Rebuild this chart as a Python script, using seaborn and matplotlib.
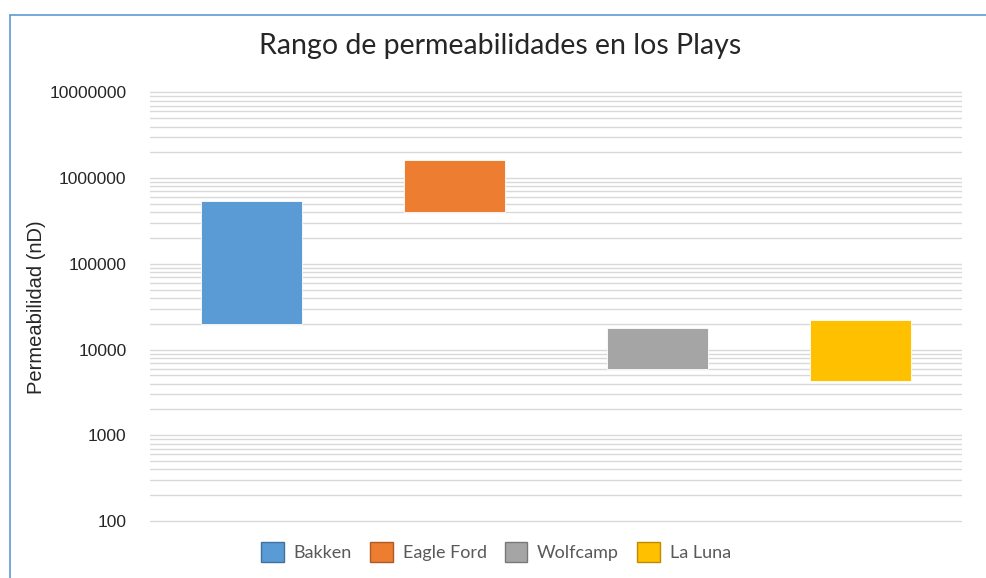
import matplotlib
matplotlib.use("Agg")
import matplotlib.pyplot as plt
from matplotlib.lines import Line2D
from matplotlib.patches import Patch
from matplotlib.ticker import LogLocator, FixedLocator, FixedFormatter, NullFormatter
import seaborn as sns
import pandas as pd

# Permeability ranges per play (nD)
plays = ["Bakken", "Eagle Ford", "Wolfcamp", "La Luna"]
perm_min = [20000, 400000, 6000, 4300]
perm_max = [540000, 1630000, 18000, 22000]
colors = ["#5B9BD5", "#ED7D31", "#A5A5A5", "#FFC000"]
edge_colors = ["#41719C", "#AE5A21", "#787878", "#BC8C00"]
ytick_values = [100, 1000, 10000, 100000, 1000000, 10000000]
ytick_labels = ["100", "1000", "10000", "100000", "1000000", "10000000"]

sns.set_theme(style="white")
plt.rcParams["font.family"] = ["Liberation Sans", "DejaVu Sans"]

df = pd.DataFrame({
    "play": plays,
    "low": perm_min,
    "span": [hi - lo for hi, lo in zip(perm_max, perm_min)],
})

fig = plt.figure(figsize=(9.86, 5.78), dpi=100)
ax = fig.add_axes([150 / 986, 1 - 523 / 578, 812 / 986, (523 - 91) / 578])

sns.barplot(data=df, x="play", y="span", bottom=df["low"].values,
            width=0.5, color=colors[0], ax=ax, zorder=3)
for patch, c in zip(ax.patches, colors):
    patch.set_facecolor(c)
    patch.set_edgecolor("white")
    patch.set_linewidth(0.6)

ax.set_yscale("log")
# small margins so the 100 and 10000000 gridlines stay visible
ax.set_ylim(100 / 1.055, 1e7 * 1.04)
ax.set_xlim(-0.5, 3.5)

ax.yaxis.set_major_locator(FixedLocator(ytick_values))
ax.yaxis.set_major_formatter(FixedFormatter(ytick_labels))
ax.yaxis.set_minor_locator(LogLocator(base=10, subs=range(2, 10)))
ax.yaxis.set_minor_formatter(NullFormatter())
ax.grid(True, axis="y", which="both", color="#D9D9D9", linewidth=1.0, zorder=0)
ax.set_axisbelow(True)

for s in ax.spines.values():
    s.set_visible(False)
ax.tick_params(axis="y", which="both", length=0, pad=17, labelsize=12.5, labelcolor="#262626")
ax.tick_params(axis="x", length=0)
ax.set_xticklabels([])
ax.set_xlabel("")
ax.set_ylabel("Permeabilidad (nD)", fontsize=14.5, color="#262626")
ax.yaxis.set_label_coords(-104 / 812, 0.5)

fig.text(500 / 986, 1 - 46 / 578, "Rango de permeabilidades en los Plays",
         ha="center", va="center", fontsize=20.5, color="#262626", family=["Lato", "DejaVu Sans"])

handles = [Patch(facecolor=c, edgecolor=e, linewidth=1.0) for c, e in zip(colors, edge_colors)]
leg = fig.legend(handles, plays, loc="center", bbox_to_anchor=(496 / 986, 1 - 552 / 578),
                 ncol=4, frameon=False, handlelength=1.25, handleheight=1.25,
                 handletextpad=0.55, columnspacing=1.0,
                 prop={"family": ["Lato", "DejaVu Sans"], "size": 13})
for t in leg.get_texts():
    t.set_color("#595959")

# chart frame border on the top and left
fig.add_artist(Line2D([10 / 986, 1], [1 - 15 / 578, 1 - 15 / 578], color="#5B9BD5", linewidth=1.2))
fig.add_artist(Line2D([10 / 986, 10 / 986], [0, 1 - 15 / 578], color="#5B9BD5", linewidth=1.2))

fig.savefig("out.png", dpi=100)
